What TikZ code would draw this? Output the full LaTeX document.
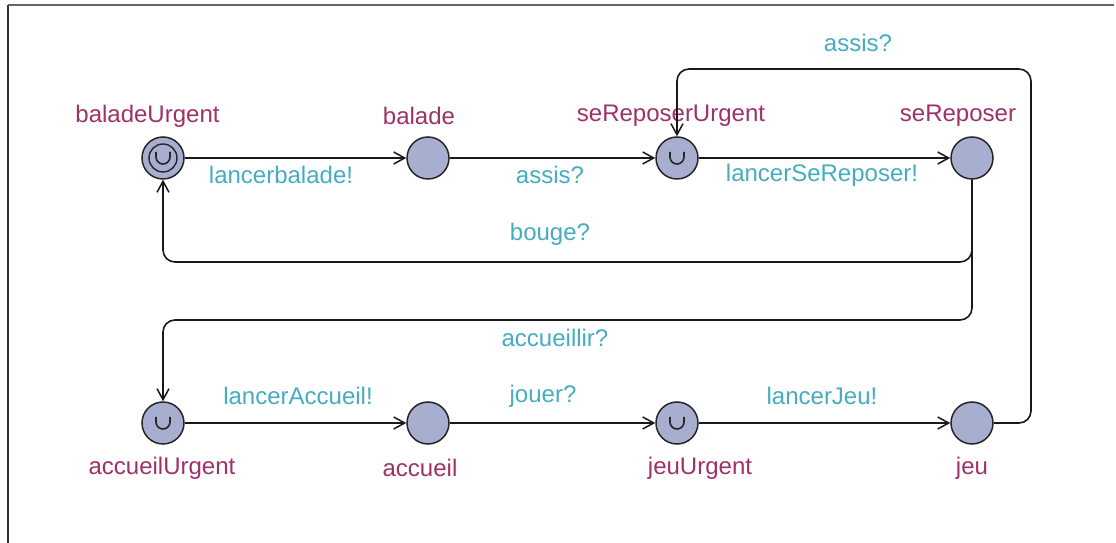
\documentclass[tikz,border=0pt]{standalone}
\usepackage{fontspec}
\setmainfont{Liberation Sans}
\usetikzlibrary{arrows.meta,calc}
\definecolor{locfill}{RGB}{168,174,208}
\definecolor{namecol}{RGB}{160,48,104}
\definecolor{labcol}{RGB}{70,172,192}
\tikzset{
  loc/.style={circle,draw=black!85,line width=1.5pt,fill=locfill,minimum size=42pt,inner sep=0pt},
  nm/.style={text=namecol,font=\fontsize{24}{28}\selectfont,inner sep=0pt},
  lab/.style={text=labcol,font=\fontsize{24}{28}\selectfont,inner sep=0pt},
  edge/.style={draw=black!90,line width=1.6pt,rounded corners=12pt,-{Straight Barb[length=11pt,width=12pt,line width=1.5pt]}},
  urg/.style={draw=black!85,line width=1.6pt}
}
\begin{document}
\begin{tikzpicture}[x=1pt,y=1pt]
\useasboundingbox (0,0) rectangle (1116,543);
% frame
\draw[line width=2pt,black!60] (8,538) -- (1114,538);
\draw[line width=2pt,black!80] (8,538) -- (8,0);
% locations
\node[loc] (bU) at (163,385) {};
\node[loc] (b) at (428,385) {};
\node[loc] (sRU) at (677,385) {};
\node[loc] (sR) at (972,385) {};
\node[loc] (aU) at (163,120) {};
\node[loc] (a) at (428,120) {};
\node[loc] (jU) at (677,120) {};
\node[loc] (j) at (972,120) {};
% initial inner ring
\draw[black!85,line width=1.4pt] (bU) circle [radius=14pt];
% urgent marks
\foreach \n in {bU,sRU,aU,jU}{
  \draw[urg] ($(\n)+(-7pt,6pt)$) -- ++(0pt,-5pt) arc [start angle=180,end angle=360,radius=7pt] -- ++(0pt,5pt);
}
% names
\node[nm] (nbU) at (147.5,427) {baladeUrgent};
\node[nm] (nb) at (419,427) {balade};
\node[nm] (nsRU) at (671,427) {seReposerUrgent};
\node[nm] (nsR) at (958,427) {seReposer};
\node[nm] (naU) at (162,75) {accueilUrgent};
\node[nm] (na) at (420,75) {accueil};
\node[nm] (njU) at (700,75) {jeuUrgent};
\node[nm] (nj) at (972,75) {jeu};
% helper coordinates
\coordinate (yb) at (0,281);
\coordinate (ya) at (0,223);
\coordinate (yt) at (0,474);
\coordinate (xr) at (1031,0);
% edges
\draw[edge] (bU) -- (b);
\draw[edge] (b) -- (sRU);
\draw[edge] (sRU) -- (sR);
\draw[edge] (aU) -- (a);
\draw[edge] (a) -- (jU);
\draw[edge] (jU) -- (j);
\draw[edge] (sR.south) -- (sR.south |- yb) -- (bU.south |- yb) -- (bU.south);
\draw[edge] (sR.south) -- (sR.south |- ya) -- (aU.north |- ya) -- (aU.north);
\draw[edge] (j.east) -- (xr |- j.east) -- (xr |- yt) -- (sRU.north |- yt) -- (sRU.north);
% edge labels
\node[lab] (l1) at (281,368) {lancerbalade!};
\node[lab] (l2) at (550,368) {assis?};
\node[lab] (l3) at (822,368) {lancerSeReposer!};
\node[lab] (l4) at (550,309) {bouge?};
\node[lab] (l5) at (555,205) {accueillir?};
\node[lab] (l6) at (298,147) {lancerAccueil!};
\node[lab] (l7) at (543,147) {jouer?};
\node[lab] (l8) at (822,147) {lancerJeu!};
\node[lab] (l9) at (858,500) {assis?};
\end{tikzpicture}
\end{document}
